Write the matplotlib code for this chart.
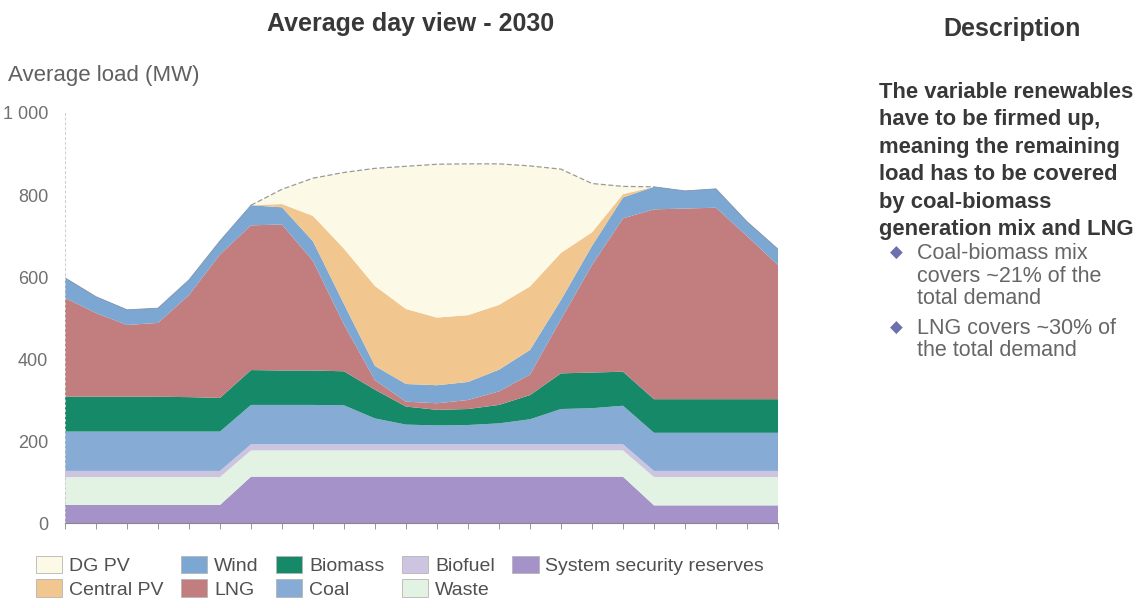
import matplotlib
matplotlib.use("Agg")
import matplotlib.pyplot as plt
from matplotlib.patches import Patch

plt.rcParams["font.family"] = ["Liberation Sans", "DejaVu Sans"]

# hourly average load by source, MW (stacked bottom -> top)
hours = list(range(24))
ssr = [44] * 6 + [113] * 13 + [43] * 5
waste = [68] * 6 + [64] * 13 + [69] * 5
biofuel = [15] * 24
coal = [96, 96, 96, 96, 96, 96, 96, 96, 96, 95, 63, 48,
        46, 47, 51, 61, 86, 88, 94, 93, 93, 93, 93, 93]
biomass = [85, 85, 85, 85, 84, 82, 85, 84, 84, 83, 70, 44,
           38, 39, 45, 59, 87, 87, 83, 82, 82, 82, 82, 82]
lng = [241, 204, 175, 180, 249, 350, 353, 356, 267, 114, 23, 12,
       16, 22, 33, 50, 132, 262, 374, 463, 465, 467, 398, 327]
wind = [49, 40, 37, 36, 37, 33, 49, 42, 48, 50, 35, 43,
        44, 44, 53, 60, 47, 47, 51, 55, 43, 46, 35, 39]
central_pv = [0] * 7 + [8, 62, 135, 195, 183, 165, 163, 158, 155, 115, 33, 8] + [0] * 5
dg_pv = [0] * 7 + [36, 92, 186, 287, 348, 374, 369, 344, 294, 204, 119, 19] + [0] * 5

yticks = [0, 200, 400, 600, 800, 1000]
ytick_labels = ["0", "200", "400", "600", "800", "1 000"]

labels = ["System security reserves", "Waste", "Biofuel", "Coal", "Biomass",
          "LNG", "Wind", "Central PV", "DG PV"]
colors = ["#a592c9", "#e2f3e4", "#cdc5df", "#86acd6", "#168a68",
          "#c27d7f", "#7ba7d2", "#f1c78f", "#fcfae6"]
series = [ssr, waste, biofuel, coal, biomass, lng, wind, central_pv, dg_pv]

W, H = 1143, 608
fig = plt.figure(figsize=(W / 100, H / 100), dpi=100)


def fx(x):
    return x / W


def fy(y):
    return 1 - y / H


ax = fig.add_axes([fx(65), fy(523), fx(778) - fx(65), fy(113) - fy(523)])
ax.stackplot(hours, *series, colors=colors, linewidth=0)

# dashed outline on top of the solar part of the day
total = [sum(v) for v in zip(*series)]
ax.plot(hours[6:20], total[6:20], color="#9a9a9a", lw=0.9, ls=(0, (4, 2)))
ax.plot(hours[:7], total[:7], color="#7f93ab", lw=0.6)
ax.plot(hours[19:], total[19:], color="#7f93ab", lw=0.6)

ax.set_xlim(0, 23)
ax.set_ylim(0, 1000)
ax.set_xticks(hours)
ax.set_xticklabels([])
ax.set_yticks(yticks)
ax.set_yticklabels(ytick_labels)
ax.tick_params(axis="y", length=0, pad=12, labelsize=13, labelcolor="#707070")
ax.tick_params(axis="x", length=4, width=0.6, color="#888888", direction="out")
for side in ["top", "right"]:
    ax.spines[side].set_visible(False)
ax.spines["bottom"].set_color("#888888")
ax.spines["bottom"].set_linewidth(0.8)
ax.spines["left"].set_color("#cccccc")
ax.spines["left"].set_linestyle((0, (2, 3)))
ax.spines["left"].set_linewidth(0.7)

fig.text(fx(411), fy(24), "Average day view - 2030", ha="center", va="center",
         fontsize=18, fontweight="bold", color="#383838")
fig.text(fx(8), fy(76), "Average load (MW)", ha="left", va="center",
         fontsize=16, color="#606060")

# legend, filled column by column
order = [8, 7, 6, 5, 4, 3, 2, 1, 0]
handles = [Patch(facecolor=colors[i], edgecolor="#b5b5b5", linewidth=0.6) for i in order]
fig.legend(handles, [labels[i] for i in order], ncol=5, frameon=False,
           loc="upper left", bbox_to_anchor=(fx(36), fy(556)),
           borderpad=0, borderaxespad=0, fontsize=14, labelcolor="#505050",
           handlelength=1.35, handleheight=1.0, handletextpad=0.35,
           columnspacing=0.9, labelspacing=0.2)

# description panel
fig.text(fx(1012), fy(29), "Description", ha="center", va="center",
         fontsize=18, fontweight="bold", color="#383838")
para = ["The variable renewables", "have to be firmed up,", "meaning the remaining",
        "load has to be covered", "by coal-biomass", "generation mix and LNG"]
for k, line in enumerate(para):
    fig.text(fx(879), fy(92 + 27.6 * k), line, ha="left", va="center",
             fontsize=15.8, fontweight="bold", color="#383838")

bullets = [["Coal-biomass mix", "covers ~21% of the", "total demand"],
           ["LNG covers ~30% of", "the total demand"]]
y = 253
for item in bullets:
    fig.text(fx(896), fy(y), "\u25c6", ha="center", va="center", fontsize=12,
             color="#6c70ad", family=["DejaVu Sans"])
    for line in item:
        fig.text(fx(917), fy(y), line, ha="left", va="center",
                 fontsize=15.5, color="#666666")
        y += 23
    y += 6

fig.savefig("out.png", dpi=100)
